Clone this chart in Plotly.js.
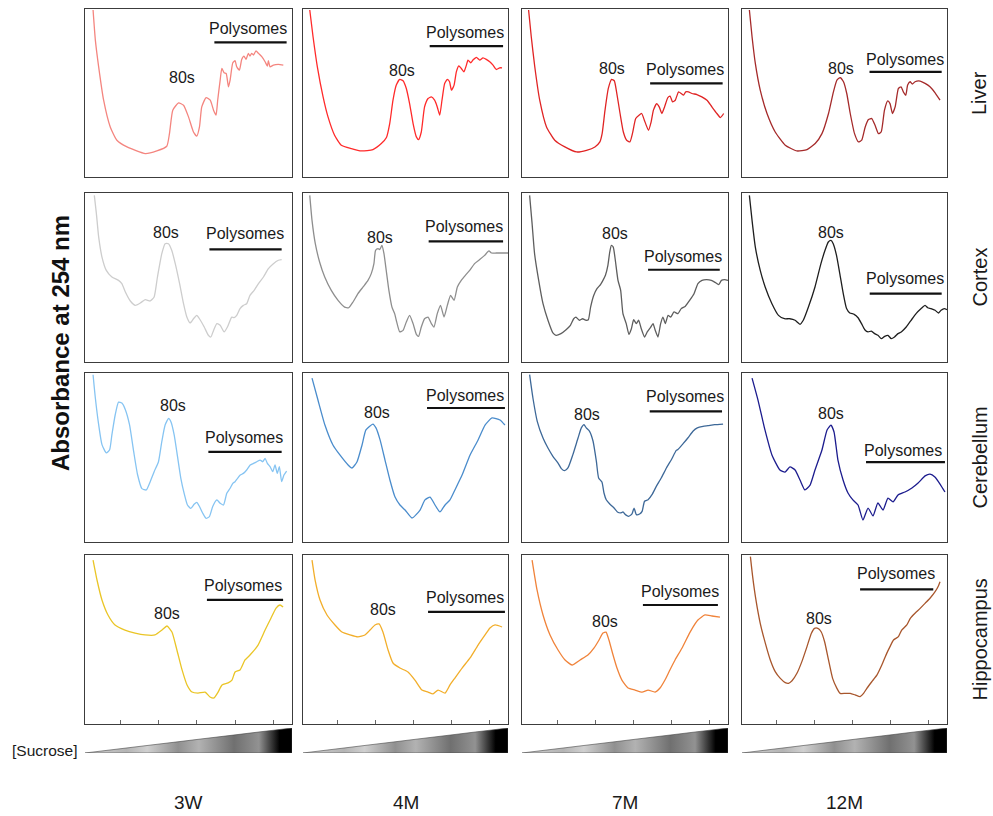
<!DOCTYPE html>
<html>
<head>
<meta charset="utf-8">
<script src="https://cdn.plot.ly/plotly-3.0.1.min.js"></script>
<style>html,body{margin:0;padding:0;background:#fff}#chart{width:993px;height:816px}</style>
</head>
<body>
<div id="chart"></div>
<script>
// ---------- categories ----------
const ages = ['3W', '4M', '7M', '12M'];
const tissues = ['Liver', 'Cortex', 'Cerebellum', 'Hippocampus'];

// ---------- series (relative position along gradient 0-100, absorbance in relative units 0-100) ----------
const liver3W_x = [3.9,5.0,6.6,9.0,12.2,15.4,20.3,29.1,34.7,39.5,40.8,42.4,45.2,47.6,50.0,52.4,54.0,55.3,56.4,58.5,60.5,62.1,63.3,64.1,65.3,66.1,67.2,68.2,69.3,70.1,71.4,72.5,73.3,74.6,75.7,76.8,77.8,78.9,79.7,80.5,81.4,82.6,83.8,85.4,87.0,88.1,88.6,89.4,91.0,93.4,95.8];
const liver3W_y = [99.4,81.5,65.6,45.7,29.8,21.9,17.9,13.9,15.5,18.3,25.8,39.8,44.1,42.7,35.8,26.8,24.3,29.8,41.7,47.3,45.7,39.8,36.8,45.7,57.7,64.6,62.0,61.6,53.7,57.7,68.0,69.2,65.6,63.6,70.0,72.0,70.0,73.6,72.0,73.6,72.6,75.1,73.6,71.6,68.6,66.0,69.2,65.6,66.6,67.0,66.6];

const liver4M_x = [3.3,4.9,7.0,9.8,12.2,15.4,18.7,23.6,28.5,34.1,38.2,40.7,42.3,43.9,45.5,47.2,48.8,50.4,52.0,53.7,55.3,56.4,57.7,59.3,61.0,62.6,64.2,65.5,66.7,67.8,69.1,70.4,71.5,72.4,73.7,74.8,76.0,77.2,78.5,79.7,80.5,81.8,82.9,84.6,86.2,87.8,89.4,91.1,92.7,94.3,95.9,97.1];
const liver4M_y = [99.4,83.5,65.6,47.7,35.8,24.9,18.9,16.9,15.5,16.3,19.9,23.5,31.8,45.7,54.7,58.1,57.3,52.7,43.7,31.8,23.9,22.3,26.8,41.7,46.7,47.7,45.7,41.7,36.8,45.7,55.7,58.1,56.7,51.7,54.7,62.6,66.2,64.6,62.6,66.6,69.6,68.0,69.6,71.2,69.6,70.9,70.0,68.6,66.6,64.0,65.0,65.0];

const liver7M_x = [3.2,4.5,6.2,8.6,11.9,15.9,20.8,26.5,31.3,35.4,37.8,38.9,40.3,41.9,43.5,44.8,45.9,47.6,49.2,50.8,52.4,53.6,55.2,56.8,58.1,59.4,61.4,62.7,63.8,65.4,66.6,67.9,69.2,70.8,71.9,73.1,74.4,76.0,77.3,78.4,79.5,80.8,82.5,84.9,87.3,89.8,92.2,94.6,96.3,97.9];
const liver7M_y = [99.4,83.5,65.6,45.7,29.8,21.9,17.9,14.9,15.9,17.9,20.9,25.8,39.8,52.7,58.1,57.3,50.7,37.8,26.8,21.9,20.9,25.8,34.8,36.8,37.8,33.8,27.8,32.8,39.8,43.7,41.7,37.8,41.7,47.3,48.1,44.7,45.7,50.7,49.7,48.7,50.7,50.7,49.7,49.1,47.7,45.7,41.7,37.8,35.4,37.8];

const liver12M_x = [3.6,4.9,6.5,8.9,12.2,16.2,21.1,26.8,31.7,35.7,39.0,42.2,44.6,46.3,47.9,49.5,51.1,52.8,54.9,56.8,58.4,60.1,61.7,63.3,64.9,66.6,67.9,69.5,71.1,72.2,73.4,74.7,76.3,77.6,78.7,79.9,80.8,82.0,83.1,84.4,86.9,89.3,91.7,94.2,96.6];
const liver12M_y = [99.4,83.5,67.6,51.7,37.8,26.8,18.9,15.5,16.3,19.9,25.8,37.8,50.7,57.7,59.2,56.7,49.7,37.8,25.8,20.9,21.9,29.8,34.2,34.8,30.8,25.8,26.8,39.8,45.3,43.7,37.8,41.7,52.7,53.7,50.7,48.7,54.7,56.7,55.3,56.7,57.1,55.7,53.7,50.1,45.7];

const cortex3W_x = [4.5,5.5,6.6,8.2,10.3,13.0,16.2,17.8,19.5,21.9,24.3,26.7,29.1,31.5,33.4,35.0,37.1,38.7,40.3,41.9,43.6,45.7,47.6,49.2,50.8,52.4,54.0,55.6,57.6,59.6,60.8,62.1,63.7,65.3,67.2,68.8,70.9,72.0,73.3,74.9,76.5,78.1,79.7,81.7,83.8,86.2,88.6,91.0,93.4,95.0];
const cortex3W_y = [98.6,87.8,74.0,62.1,54.2,50.3,48.3,46.4,41.4,36.1,33.5,34.9,36.9,36.1,38.5,50.3,64.1,70.0,70.0,66.1,58.2,46.4,34.5,26.6,23.1,25.6,27.6,25.0,20.7,15.8,14.8,18.7,22.7,21.7,17.8,20.7,26.6,26.2,27.6,31.6,33.5,34.5,39.4,42.4,46.4,50.3,55.2,58.2,60.2,60.6];

const cortex4M_x = [3.3,4.4,6.0,8.1,10.6,13.8,17.1,20.3,22.3,24.4,26.8,29.3,31.7,33.3,34.6,35.4,36.6,37.4,38.5,39.5,40.6,41.9,43.4,44.7,45.5,47.2,48.8,50.4,52.0,53.7,55.3,56.4,57.7,59.3,61.0,62.6,63.9,65.5,67.1,68.8,70.4,72.0,73.7,75.3,77.2,79.2,81.3,83.7,86.2,88.6,90.7,91.9,94.3,100];
const cortex4M_y = [98.6,83.8,70.0,59.2,50.3,42.4,36.5,32.5,32.1,35.5,40.4,44.4,48.3,52.3,58.2,66.1,67.1,66.5,69.0,64.1,54.2,42.4,32.5,28.6,24.7,17.8,18.7,23.7,27.6,22.7,16.4,15.2,20.7,25.6,26.6,22.7,20.7,28.6,33.5,26.6,33.5,39.4,36.5,44.4,48.3,51.3,54.2,58.2,60.6,63.1,65.7,64.5,64.5,64.5];

const cortex7M_x = [3.7,4.9,6.1,8.1,10.2,12.6,15.0,16.5,18.9,21.4,23.5,25.1,26.2,27.8,29.4,31.1,32.2,33.3,34.8,36.4,38.1,39.3,40.5,41.7,42.6,43.4,44.3,45.3,46.6,47.9,49.0,50.6,51.9,53.1,54.2,55.5,56.6,57.9,59.5,60.8,62.5,63.6,64.7,66.0,67.3,68.4,69.6,70.9,72.2,73.8,75.7,77.3,79.3,81.4,83.5,85.4,87.4,89.5,91.9,93.5,95.5,96.8,98.4,100];
const cortex7M_y = [98.6,81.9,64.1,48.3,34.5,24.7,17.2,15.8,16.8,19.1,21.7,25.6,26.6,24.7,25.6,24.7,25.0,32.5,39.4,43.4,45.8,48.3,51.3,57.2,65.1,69.0,68.0,60.2,48.3,42.4,28.6,22.7,16.4,19.7,25.0,22.7,24.7,19.7,14.8,17.8,20.7,22.7,18.7,14.8,22.7,26.6,22.7,27.6,26.6,29.6,28.6,31.6,33.0,36.5,40.4,46.4,48.3,48.7,48.3,47.3,45.8,48.3,48.7,48.3];

const cortex12M_x = [3.6,4.9,6.5,8.9,11.3,14.6,17.8,20.7,23.3,25.9,28.3,29.9,32.4,35.6,38.5,40.5,42.1,43.4,44.5,46.1,47.7,49.4,51.0,52.6,54.7,56.6,58.3,59.9,61.5,63.1,64.7,66.3,68.0,69.6,71.2,72.8,74.4,76.1,77.7,80.1,82.5,84.9,87.4,89.3,90.6,92.2,94.2,95.8,97.1,98.7,100];
const cortex12M_y = [98.6,83.8,68.0,54.2,44.4,34.5,27.6,25.6,25.6,24.7,22.3,24.7,32.5,44.4,58.2,66.1,71.0,72.0,70.0,63.1,52.3,40.4,31.6,29.0,28.2,26.2,22.7,19.1,17.8,18.3,16.8,15.8,13.8,15.2,15.8,13.8,14.8,16.8,17.8,20.7,24.7,28.6,31.6,33.5,32.1,31.6,30.6,29.0,30.6,31.6,31.0];

const cerebellum3W_x = [3.9,5.0,6.6,8.2,10.3,11.9,13.0,14.6,16.2,17.8,19.5,21.5,23.5,25.4,27.5,29.6,31.5,33.4,35.5,37.1,38.7,40.4,41.5,43.1,44.7,46.3,47.9,49.5,51.1,52.7,54.0,55.3,56.9,58.5,60.1,61.7,63.7,65.3,66.9,68.5,70.1,71.4,72.5,73.7,75.0,76.5,78.1,79.8,81.4,83.0,84.6,85.9,87.0,88.1,89.4,90.7,91.8,92.9,93.9,95.0,96.1,97.4];
const cerebellum3W_y = [99.0,85.2,69.4,57.6,52.7,54.6,63.5,75.3,82.8,82.2,78.3,69.4,53.6,39.8,31.6,30.8,35.7,41.6,47.5,59.4,69.2,73.2,71.2,63.3,50.5,37.7,28.8,21.9,19.9,22.3,23.5,21.0,17.0,14.0,15.0,21.0,24.9,22.9,21.9,28.8,31.8,34.7,35.7,37.7,39.6,40.6,42.6,45.6,46.5,47.5,48.5,47.5,49.5,46.5,44.6,41.6,45.6,40.6,44.6,35.7,39.6,42.0];

const cerebellum4M_x = [4.4,7.3,10.7,14.6,18.0,22.0,23.9,26.3,28.8,30.7,34.1,35.6,37.6,40.0,42.4,44.9,47.3,49.8,53.2,57.1,59.5,62.0,64.4,66.8,69.3,71.7,74.1,77.6,81.5,85.4,88.8,92.2,96.1,98.5];
const cerebellum4M_y = [97.0,84.0,69.2,57.4,51.5,45.6,43.8,47.3,57.4,66.3,69.8,67.5,60.4,48.5,36.7,26.6,21.9,18.9,14.2,18.9,24.9,26.6,21.9,17.8,21.9,24.9,30.8,39.6,51.5,60.4,69.2,73.4,72.2,69.2];

const cerebellum7M_x = [3.7,5.3,7.4,10.2,12.6,15.0,17.5,19.1,20.7,22.3,24.7,27.2,28.8,30.1,31.2,32.8,34.5,36.1,37.2,38.8,39.8,40.9,42.6,44.7,46.3,47.9,49.0,50.2,51.8,53.4,54.4,55.5,57.1,58.3,59.5,61.2,63.1,65.2,67.6,70.1,72.5,74.9,75.7,78.2,80.6,83.1,85.1,87.9,90.3,93.5,97.6];
const cerebellum7M_y = [99.0,85.2,71.4,61.5,55.6,50.7,46.7,43.4,42.2,43.8,51.7,61.5,67.5,69.4,67.5,65.5,59.6,47.7,37.9,35.5,29.0,25.0,22.5,20.1,17.8,17.2,17.8,16.2,15.2,16.6,20.1,16.2,16.6,18.1,24.1,25.0,28.0,32.9,37.9,43.8,48.7,54.2,54.8,58.2,61.7,65.7,67.5,68.4,68.8,69.4,69.8];

const cerebellum12M_x = [4.9,7.8,11.2,14.6,18.5,21.0,23.4,25.9,28.3,30.7,33.2,35.6,39.0,41.5,43.4,44.9,46.8,49.3,51.7,54.1,56.6,59.0,61.5,63.9,66.3,68.8,71.2,73.7,76.1,79.5,82.9,85.9,89.3,91.7,94.1,96.6,99.0];
const cerebellum12M_y = [97.0,84.0,66.3,51.5,42.6,41.4,44.4,42.6,36.7,30.8,33.7,42.6,54.4,66.3,69.2,65.1,48.5,36.7,29.0,24.9,21.9,13.0,20.1,15.4,23.1,18.9,26.0,23.7,27.8,29.6,32.0,34.9,39.1,40.2,38.5,34.3,29.6];

const hippocampus3W_x = [3.9,5.8,8.2,11.1,14.5,19.3,24.2,29.0,33.8,37.2,39.6,42.0,44.4,46.9,49.3,51.7,54.6,58.0,60.4,62.3,64.3,66.2,69.1,71.0,72.5,74.9,77.3,79.7,83.6,87.0,89.4,92.3,94.2,95.7];
const hippocampus3W_y = [97.0,85.2,73.4,64.5,58.6,55.6,53.8,52.7,52.7,55.6,58.0,54.4,43.8,32.0,23.1,18.9,18.3,18.9,16.0,15.4,18.9,23.1,24.3,26.0,30.8,32.0,37.9,40.8,46.7,55.6,61.5,68.6,70.4,69.2];

const hippocampus4M_x = [4.4,5.9,8.3,11.7,15.6,19.0,22.9,26.8,30.2,32.7,35.1,37.1,39.0,41.5,43.9,47.3,51.2,54.6,58.0,61.0,63.4,65.9,69.3,71.7,74.1,77.6,81.5,85.4,88.8,91.2,93.7,97.1];
const hippocampus4M_y = [97.0,85.2,73.4,64.5,58.6,54.4,52.7,51.5,52.7,55.6,58.6,59.2,54.4,43.8,36.1,33.1,30.8,26.0,20.1,18.9,17.8,20.1,18.3,23.1,27.2,33.1,39.1,46.7,52.7,56.8,58.6,57.4];

const hippocampus7M_x = [4.9,7.3,10.2,13.6,17.5,20.9,24.3,28.2,32.0,35.0,37.4,39.3,40.8,42.2,44.2,46.1,48.5,51.5,54.9,58.3,61.2,64.6,67.0,69.4,71.8,74.3,77.7,81.6,85.4,88.8,92.2,96.1];
const hippocampus7M_y = [97.0,79.3,64.5,52.7,43.8,37.9,34.9,37.9,40.8,45.0,49.7,53.8,54.4,49.7,40.8,33.1,26.0,21.3,20.1,18.9,20.1,18.9,21.3,26.0,32.0,37.9,45.0,54.4,61.5,64.5,63.9,63.3];

const hippocampus12M_x = [4.1,5.2,6.8,8.9,11.4,13.8,16.2,18.7,21.1,22.7,24.4,26.8,29.2,31.7,33.8,35.4,37.0,38.6,40.3,42.2,44.2,46.3,47.9,50.3,52.8,55.2,57.6,59.3,60.9,63.3,65.8,68.2,70.6,72.2,73.9,76.3,77.9,80.4,82.1,84.4,86.9,89.3,91.7,94.2,95.8,96.6];
const hippocampus12M_y = [99.0,87.2,73.4,59.6,47.7,37.9,31.0,27.0,24.5,24.1,25.6,30.0,36.9,45.8,53.6,56.6,56.6,54.6,48.7,37.9,27.0,21.1,18.1,18.1,18.1,17.2,16.2,18.1,21.1,25.0,28.9,34.9,41.8,45.8,49.7,51.7,55.6,58.6,62.5,65.5,68.4,71.4,74.4,78.3,81.7,84.2];

// ---------- panel styling & annotation placement ----------
const FONT = 'Arial, "Liberation Sans", sans-serif';
const W = 993, H = 816;
const colPx = [[85, 292], [303, 508], [522, 728], [742, 947]];
const rowPx = [[9, 177], [193, 362], [373, 542], [555, 724]];

const panels = [
  {r:0,c:0,x:liver3W_x,y:liver3W_y,color:'#f4857f',s80:[46.8,59.2],poly:[78.9,88.1],bar:[62.5,97.4,80.1]},
  {r:0,c:1,x:liver4M_x,y:liver4M_y,color:'#ff2a2a',s80:[48.3,63.6],poly:[78.9,85.9],bar:[61.8,97.6,77.9]},
  {r:0,c:2,x:liver7M_x,y:liver7M_y,color:'#e02424',s80:[43.8,64.6],poly:[78.9,64.0],bar:[62.2,97.4,55.7]},
  {r:0,c:3,x:liver12M_x,y:liver12M_y,color:'#a52a2a',s80:[48.4,64.6],poly:[79.5,70.0],bar:[62.2,97.4,62.6]},
  {r:1,c:0,x:cortex3W_x,y:cortex3W_y,color:'#cdcdcd',s80:[39.2,76.5],poly:[77.3,75.9],bar:[60.1,95.0,66.7]},
  {r:1,c:1,x:cortex4M_x,y:cortex4M_y,color:'#8e8e8e',s80:[37.4,73.6],poly:[78.5,80.1],bar:[61.3,97.6,71.4]},
  {r:1,c:2,x:cortex7M_x,y:cortex7M_y,color:'#5e5e5e',s80:[45.3,76.3],poly:[78.1,62.7],bar:[61.2,96.0,54.6]},
  {r:1,c:3,x:cortex12M_x,y:cortex12M_y,color:'#1e1e1e',s80:[43.2,76.9],poly:[79.6,49.3],bar:[62.3,97.4,40.4]},
  {r:2,c:0,x:cerebellum3W_x,y:cerebellum3W_y,color:'#86c4f2',s80:[42.3,80.9],poly:[76.8,62.1],bar:[59.6,95.0,53.3]},
  {r:2,c:1,x:cerebellum4M_x,y:cerebellum4M_y,color:'#4a8ccc',s80:[36.1,76.9],poly:[79.0,86.4],bar:[60.5,98.5,79.3]},
  {r:2,c:2,x:cerebellum7M_x,y:cerebellum7M_y,color:'#3d6898',s80:[31.7,75.3],poly:[79.0,86.2],bar:[62.0,97.1,77.3]},
  {r:2,c:3,x:cerebellum12M_x,y:cerebellum12M_y,color:'#1c1c8e',s80:[43.4,76.3],poly:[78.5,54.4],bar:[60.5,99.0,47.3]},
  {r:3,c:0,x:hippocampus3W_x,y:hippocampus3W_y,color:'#eac526',s80:[39.6,65.1],poly:[76.3,82.2],bar:[58.9,95.7,73.4]},
  {r:3,c:1,x:hippocampus4M_x,y:hippocampus4M_y,color:'#f2ae2a',s80:[39.0,67.5],poly:[79.0,75.1],bar:[61.0,98.5,66.3]},
  {r:3,c:2,x:hippocampus7M_x,y:hippocampus7M_y,color:'#f0833a',s80:[40.3,60.4],poly:[76.7,78.7],bar:[58.7,95.1,70.4]},
  {r:3,c:3,x:hippocampus12M_x,y:hippocampus12M_y,color:'#a8562c',s80:[37.8,62.5],poly:[75.2,88.8],bar:[57.6,93.3,79.7]}
];

const gradStops = [[0,'#d2d2d2'],[0.2,'#b4b4b4'],[0.3,'#d0d0d0'],[0.45,'#909090'],[0.55,'#b2b2b2'],[0.72,'#707070'],[0.84,'#929292'],[0.9,'#3a3a3a'],[0.94,'#000000'],[1,'#000000']];

const px2x = p => p / W;
const px2y = p => 1 - p / H;

const data = [];
const layout = {
  width: W, height: H,
  margin: {l: 0, r: 0, t: 0, b: 0},
  paper_bgcolor: '#ffffff', plot_bgcolor: '#ffffff',
  showlegend: false,
  font: {family: FONT, color: '#1a1a1a'},
  annotations: [], shapes: []
};

panels.forEach((p, i) => {
  const n = i + 1;
  const xa = 'xaxis' + n, ya = 'yaxis' + n;
  const xr = 'x' + n, yr = 'y' + n;
  const bottom = p.r === 3;
  layout[xa] = {
    domain: [px2x(colPx[p.c][0]), px2x(colPx[p.c][1])],
    range: [0, 100], anchor: yr, fixedrange: true,
    showgrid: false, zeroline: false, showticklabels: false,
    showline: true, mirror: true, linecolor: '#3c3c3c', linewidth: 1.3,
    ticks: bottom ? 'inside' : '', tickvals: bottom ? [17, 35.5, 54, 72.5, 91] : [],
    ticklen: 4, tickcolor: '#666', tickwidth: 1
  };
  layout[ya] = {
    domain: [px2y(rowPx[p.r][1]), px2y(rowPx[p.r][0])],
    range: [0, 100], anchor: xr, fixedrange: true,
    showgrid: false, zeroline: false, showticklabels: false,
    showline: true, mirror: true, linecolor: '#3c3c3c', linewidth: 1.3, ticks: ''
  };
  data.push({
    type: 'scatter', mode: 'lines', x: p.x, y: p.y, xaxis: xr, yaxis: yr,
    line: {color: p.color, width: 1.3, shape: 'spline', smoothing: 0.5},
    hoverinfo: 'skip'
  });
  layout.annotations.push({
    xref: xr, yref: yr, x: p.s80[0], y: p.s80[1], text: '80s', showarrow: false,
    font: {size: 16, family: FONT, color: '#1a1a1a'}, xanchor: 'center', yanchor: 'middle'
  });
  layout.annotations.push({
    xref: xr, yref: yr, x: p.poly[0], y: p.poly[1], text: 'Polysomes', showarrow: false,
    font: {size: 16, family: FONT, color: '#1a1a1a'}, xanchor: 'center', yanchor: 'middle'
  });
  layout.shapes.push({
    type: 'line', xref: xr, yref: yr, x0: p.bar[0], x1: p.bar[1], y0: p.bar[2], y1: p.bar[2],
    line: {color: '#111', width: 2.2}
  });
});

// sucrose gradient wedges under each column
layout.yaxis17 = {domain: [px2y(753), px2y(728)], range: [0, 1], anchor: 'x13', visible: false, fixedrange: true};
ages.forEach((a, c) => {
  data.push({
    type: 'scatter', mode: 'lines', xaxis: 'x' + (13 + c), yaxis: 'y17',
    x: [0, 100, 100, 0], y: [0, 0, 1, 0], fill: 'toself',
    fillgradient: {type: 'horizontal', colorscale: gradStops},
    line: {width: 0.6, color: '#444'}, hoverinfo: 'skip'
  });
  layout.annotations.push({
    xref: 'paper', yref: 'paper', x: px2x((colPx[c][0] + colPx[c][1]) / 2), y: px2y(802),
    text: a, showarrow: false, font: {size: 19, family: FONT, color: '#1a1a1a'},
    xanchor: 'center', yanchor: 'middle'
  });
});

tissues.forEach((t, r) => {
  layout.annotations.push({
    xref: 'paper', yref: 'paper', x: px2x(979), y: px2y((rowPx[r][0] + rowPx[r][1]) / 2),
    text: t, showarrow: false, textangle: -90,
    font: {size: 20, family: FONT, color: '#1a1a1a'}, xanchor: 'center', yanchor: 'middle'
  });
});

layout.annotations.push({
  xref: 'paper', yref: 'paper', x: px2x(60), y: px2y(343),
  text: '<b>Absorbance at 254 nm</b>', showarrow: false, textangle: -90,
  font: {size: 24, family: FONT, color: '#111'}, xanchor: 'center', yanchor: 'middle'
});
layout.annotations.push({
  xref: 'paper', yref: 'paper', x: px2x(44), y: px2y(750),
  text: '[Sucrose]', showarrow: false,
  font: {size: 15.5, family: FONT, color: '#1a1a1a'}, xanchor: 'center', yanchor: 'middle'
});

Plotly.newPlot('chart', data, layout, {staticPlot: true, displayModeBar: false});
</script>
</body>
</html>
